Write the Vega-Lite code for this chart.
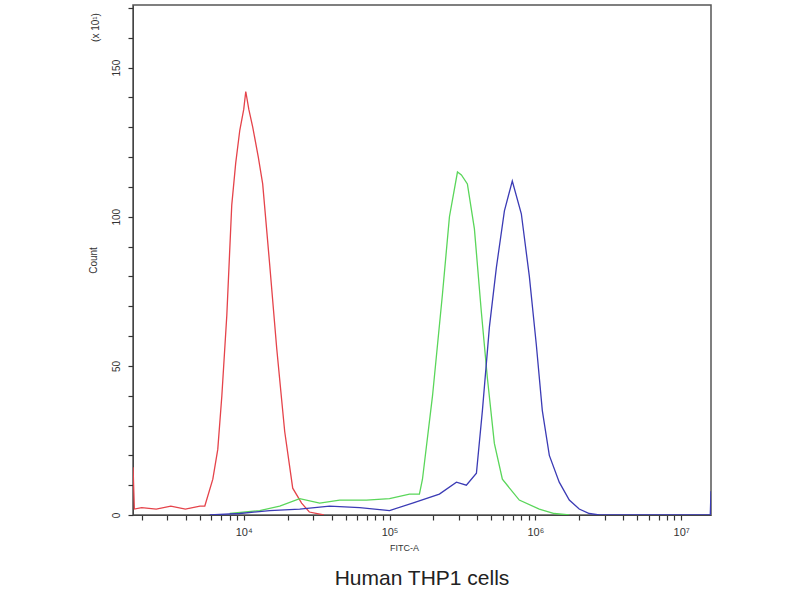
{
  "$schema": "https://vega.github.io/schema/vega-lite/v6.json",
  "width": 578,
  "height": 510,
  "autosize": {"type": "none"},
  "padding": {"left": 133, "top": 5, "right": 89, "bottom": 85},
  "background": "white",
  "config": {
    "view": {"stroke": "#555555", "strokeWidth": 1.5},
    "font": "Liberation Sans",
    "axis": {"grid": false, "ticks": true, "domainColor": "#444444", "tickColor": "#333333", "tickWidth": 1.2, "labelColor": "#333333", "titleColor": "#333333", "labelFont": "Liberation Sans", "titleFont": "Liberation Sans", "titleFontWeight": "normal"}
  },
  "title": {
    "text": "Human THP1 cells",
    "orient": "bottom",
    "anchor": "middle",
    "fontSize": 21,
    "fontWeight": "normal",
    "color": "#222222",
    "offset": 16
  },
  "data": {
    "values": [
      {"series": "a", "fitc": 1742, "count": 16},
      {"series": "a", "fitc": 1778, "count": 2},
      {"series": "a", "fitc": 1995, "count": 2.5},
      {"series": "a", "fitc": 2512, "count": 2},
      {"series": "a", "fitc": 3162, "count": 3},
      {"series": "a", "fitc": 3981, "count": 2},
      {"series": "a", "fitc": 5012, "count": 3},
      {"series": "a", "fitc": 5408, "count": 3},
      {"series": "a", "fitc": 6138, "count": 12},
      {"series": "a", "fitc": 6637, "count": 22},
      {"series": "a", "fitc": 7079, "count": 40},
      {"series": "a", "fitc": 7656, "count": 67},
      {"series": "a", "fitc": 8279, "count": 104},
      {"series": "a", "fitc": 8810, "count": 118},
      {"series": "a", "fitc": 9397, "count": 129},
      {"series": "a", "fitc": 10000, "count": 136},
      {"series": "a", "fitc": 10328, "count": 142},
      {"series": "a", "fitc": 10839, "count": 136},
      {"series": "a", "fitc": 11535, "count": 130},
      {"series": "a", "fitc": 12589, "count": 120},
      {"series": "a", "fitc": 13490, "count": 111},
      {"series": "a", "fitc": 15066, "count": 84},
      {"series": "a", "fitc": 16827, "count": 56},
      {"series": "a", "fitc": 19099, "count": 28},
      {"series": "a", "fitc": 21677, "count": 9},
      {"series": "a", "fitc": 24946, "count": 4},
      {"series": "a", "fitc": 28184, "count": 1},
      {"series": "a", "fitc": 35481, "count": 0},
      {"series": "b", "fitc": 8017, "count": 0.5},
      {"series": "b", "fitc": 12882, "count": 1.5},
      {"series": "b", "fitc": 17660, "count": 3},
      {"series": "b", "fitc": 24210, "count": 5.5},
      {"series": "b", "fitc": 33189, "count": 4},
      {"series": "b", "fitc": 45499, "count": 5},
      {"series": "b", "fitc": 69502, "count": 5},
      {"series": "b", "fitc": 100000, "count": 5.5},
      {"series": "b", "fitc": 137088, "count": 7},
      {"series": "b", "fitc": 160325, "count": 7},
      {"series": "b", "fitc": 168267, "count": 12},
      {"series": "b", "fitc": 197242, "count": 40},
      {"series": "b", "fitc": 230675, "count": 74},
      {"series": "b", "fitc": 257632, "count": 100},
      {"series": "b", "fitc": 292415, "count": 115},
      {"series": "b", "fitc": 311170, "count": 114},
      {"series": "b", "fitc": 341979, "count": 111},
      {"series": "b", "fitc": 381944, "count": 96},
      {"series": "b", "fitc": 426580, "count": 68},
      {"series": "b", "fitc": 468813, "count": 46},
      {"series": "b", "fitc": 523600, "count": 24},
      {"series": "b", "fitc": 594292, "count": 12},
      {"series": "b", "fitc": 776247, "count": 5},
      {"series": "b", "fitc": 1064143, "count": 2},
      {"series": "b", "fitc": 1348963, "count": 0.5},
      {"series": "b", "fitc": 1710015, "count": 0},
      {"series": "c", "fitc": 5848, "count": 0},
      {"series": "c", "fitc": 9397, "count": 0.5},
      {"series": "c", "fitc": 15066, "count": 1.5},
      {"series": "c", "fitc": 24210, "count": 2},
      {"series": "c", "fitc": 38815, "count": 3},
      {"series": "c", "fitc": 62373, "count": 2.5},
      {"series": "c", "fitc": 100000, "count": 1.5},
      {"series": "c", "fitc": 143880, "count": 4},
      {"series": "c", "fitc": 219786, "count": 7},
      {"series": "c", "fitc": 287740, "count": 11},
      {"series": "c", "fitc": 336512, "count": 10},
      {"series": "c", "fitc": 394457, "count": 14},
      {"series": "c", "fitc": 433511, "count": 35},
      {"series": "c", "fitc": 484172, "count": 63},
      {"series": "c", "fitc": 540754, "count": 83},
      {"series": "c", "fitc": 613762, "count": 102},
      {"series": "c", "fitc": 695024, "count": 112},
      {"series": "c", "fitc": 801678, "count": 101},
      {"series": "c", "fitc": 909913, "count": 80},
      {"series": "c", "fitc": 1016249, "count": 57},
      {"series": "c", "fitc": 1116863, "count": 35},
      {"series": "c", "fitc": 1247384, "count": 20},
      {"series": "c", "fitc": 1458814, "count": 11},
      {"series": "c", "fitc": 1710015, "count": 5},
      {"series": "c", "fitc": 1999862, "count": 2},
      {"series": "c", "fitc": 2344229, "count": 0.5},
      {"series": "c", "fitc": 2741574, "count": 0},
      {"series": "c", "fitc": 15848932, "count": 0},
      {"series": "c", "fitc": 16030000, "count": 8}
    ]
  },
  "encoding": {
    "x": {
      "field": "fitc",
      "type": "quantitative",
      "scale": {"type": "log", "domain": [1740, 16030000], "nice": false},
      "axis": {
        "title": "FITC-A",
        "titleFontSize": 9,
        "titleX": 271,
        "titleY": 32,
        "titleBaseline": "middle",
        "values": [2000, 3000, 4000, 5000, 6000, 7000, 8000, 9000, 10000, 20000, 30000, 40000, 50000, 60000, 70000, 80000, 90000, 100000, 200000, 300000, 400000, 500000, 600000, 700000, 800000, 900000, 1000000, 2000000, 3000000, 4000000, 5000000, 6000000, 7000000, 8000000, 9000000, 10000000],
        "labelExpr": "datum.value == 10000 ? '10⁴' : datum.value == 100000 ? '10⁵' : datum.value == 1000000 ? '10⁶' : datum.value == 10000000 ? '10⁷' : ''",
        "labelFontSize": 11,
        "labelPadding": 6,
        "tickSize": 5
      }
    },
    "y": {
      "field": "count",
      "type": "quantitative",
      "scale": {"domain": [0, 171], "nice": false},
      "axis": {
        "title": "Count",
        "titleFontSize": 10,
        "titleX": -40,
        "titleY": 255,
        "titleAngle": -90,
        "titleAlign": "center",
        "titleBaseline": "middle",
        "values": [0, 10, 20, 30, 40, 50, 60, 70, 80, 90, 100, 110, 120, 130, 140, 150, 160, 170],
        "labelExpr": "datum.value % 50 == 0 ? datum.value + '' : ''",
        "labelAngle": -90,
        "labelAlign": "center",
        "labelBaseline": "bottom",
        "labelFontSize": 10,
        "labelPadding": 7,
        "tickSize": 5
      }
    },
    "color": {
      "field": "series",
      "type": "nominal",
      "scale": {"domain": ["a", "b", "c"], "range": ["#e5434a", "#5ad65a", "#3b3bb5"]},
      "legend": null
    }
  },
  "layer": [
    {
      "mark": {"type": "line", "strokeWidth": 1.3, "clip": true}
    },
    {
      "mark": {"type": "line", "strokeOpacity": 0},
      "encoding": {
        "y": {
          "field": "count",
          "type": "quantitative",
          "axis": {
            "orient": "left",
            "title": "(x 10¹)",
            "titleFontSize": 10,
            "titleX": -38,
            "titleY": 22,
            "titleAngle": -90,
            "titleAlign": "center",
            "titleBaseline": "middle",
            "labels": false,
            "ticks": false,
            "domain": false
          }
        }
      }
    }
  ],
  "resolve": {"axis": {"y": "independent"}}
}
